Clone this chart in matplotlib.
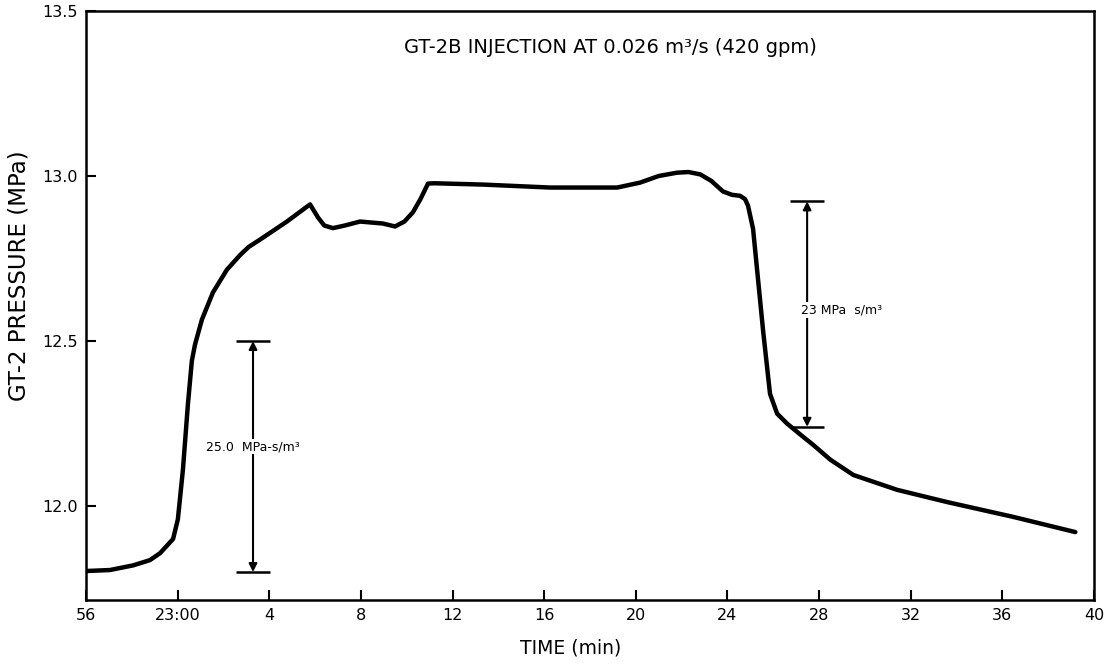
'''
GT-2 pressure response during GT-2B injection
'''

import numpy as np
import matplotlib
matplotlib.use('Agg')
import matplotlib.pyplot as plt

# time in minutes relative to 23:00 (negative = before 23:00)
time_min = [-4.0, -2.96, -1.95, -1.21, -0.77, -0.2, 0.01, 0.23, 0.45, 0.62,
            0.76, 1.06, 1.54, 2.15, 2.72, 3.1, 3.59, 4.77, 5.78, 6.13, 6.4,
            6.78, 7.3, 7.96, 8.96, 9.49, 9.9, 10.27, 10.6, 10.93, 11.2, 13.33,
            16.26, 19.19, 20.19, 21.0, 21.8, 22.3, 22.81, 23.3, 23.81, 24.2,
            24.55, 24.77, 24.9, 25.12, 25.56, 25.86, 26.17, 26.6, 27.3, 27.75,
            28.5, 29.5, 31.41, 33.59, 36.48, 39.19]
pressure = [11.803, 11.806, 11.82, 11.836, 11.857, 11.90, 11.96, 12.11, 12.31,
            12.44, 12.49, 12.565, 12.647, 12.716, 12.76, 12.785, 12.807,
            12.862, 12.914, 12.874, 12.85, 12.842, 12.85, 12.862, 12.856,
            12.847, 12.862, 12.89, 12.93, 12.977, 12.978, 12.974, 12.965,
            12.965, 12.98, 13.0, 13.01, 13.012, 13.005, 12.985, 12.953, 12.943,
            12.94, 12.93, 12.91, 12.84, 12.53, 12.34, 12.28, 12.25, 12.21,
            12.185, 12.14, 12.094, 12.049, 12.012, 11.967, 11.921]

x_ticks = [-4, 0, 4, 8, 12, 16, 20, 24, 28, 32, 36, 40]
x_tick_labels = ['56', '23:00', '4', '8', '12', '16', '20', '24', '28', '32', '36', '40']
y_ticks = [12.0, 12.5, 13.0, 13.5]
y_tick_labels = ['12.0', '12.5', '13.0', '13.5']

# pressure-step markers: (time, low, high, label)
steps = [(3.29, 11.80, 12.50, '25.0  MPa-s/m³'),
         (27.48, 12.24, 12.923, '23 MPa  s/m³')]

plt.rc('font', family='DejaVu Sans')

fig = plt.figure(figsize=(11.1, 6.66), dpi=100)
ax = fig.add_axes([0.0775, 0.099, 0.908, 0.8845])

ax.plot(time_min, pressure, '-', lw=3.2, color='k', solid_capstyle='round',
        solid_joinstyle='round')

for t, lo, hi, label in steps:
    ax.annotate('', xy=(t, hi), xytext=(t, lo),
                arrowprops=dict(arrowstyle='<|-|>', color='k', lw=1.5,
                                mutation_scale=12, shrinkA=0, shrinkB=0))
    ax.hlines([lo, hi], t - 0.75, t + 0.75, color='k', lw=1.8)

ax.text(steps[0][0], 12.18, steps[0][3], fontsize=9, ha='center', va='center',
        bbox=dict(facecolor='white', edgecolor='none', pad=1))
ax.text(27.2, 12.595, steps[1][3], fontsize=9, ha='left', va='center',
        bbox=dict(facecolor='white', edgecolor='none', pad=1))

ax.text(18.9, 13.39, 'GT-2B INJECTION AT 0.026 m³/s (420 gpm)',
        fontsize=14, ha='center', va='center')

ax.set_xlim(-4, 40)
ax.set_ylim(11.715, 13.5)
ax.set_xticks(x_ticks)
ax.set_xticklabels(x_tick_labels)
ax.set_yticks(y_ticks)
ax.set_yticklabels(y_tick_labels)
ax.tick_params(axis='both', direction='in', length=7, width=1.5,
               labelsize=11.5, pad=6)

for s in ax.spines.values():
    s.set_linewidth(1.8)

ax.set_xlabel('TIME (min)', fontsize=13.5)
ax.xaxis.set_label_coords(0.481, -0.065)
ax.set_ylabel('GT-2 PRESSURE (MPa)', fontsize=16.5)
ax.yaxis.set_label_coords(-0.055, 0.55)

plt.savefig('out.png', dpi=100)
